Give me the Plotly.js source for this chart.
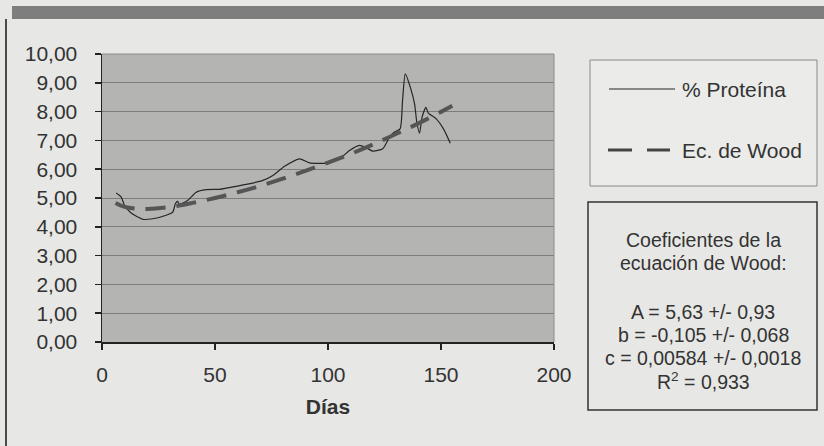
<!DOCTYPE html>
<html>
<head>
<meta charset="utf-8">
<script src="https://cdn.plot.ly/plotly-3.0.1.min.js"></script>
<style>
  html, body { margin: 0; padding: 0; background: #e7e7e5; }
  #chart { width: 824px; height: 446px; }
</style>
</head>
<body>
<div id="chart"></div>
<script>
// ---- Data ----
const proteinDays = [6.3, 8.5, 10.0, 12.9, 18.1, 22.5, 28.4, 31.3, 32.5, 33.5, 34.3, 38.0, 41.7, 46.1, 52.0, 55.0, 63.8, 71.2, 75.6, 80.8, 87.4, 91.8, 99.2, 105.1, 109.5, 113.9, 116.9, 119.8, 124.2, 127.2, 129.4, 131.9, 133.0, 134.2, 136.6, 138.3, 139.3, 140.5, 141.6, 143.3, 144.4, 147.9, 151.1, 154.1];
const proteinValues = [5.17, 5.03, 4.74, 4.48, 4.26, 4.28, 4.40, 4.51, 4.81, 4.88, 4.78, 4.92, 5.20, 5.29, 5.30, 5.34, 5.47, 5.61, 5.78, 6.10, 6.36, 6.22, 6.21, 6.36, 6.65, 6.83, 6.75, 6.63, 6.71, 7.11, 7.29, 7.40, 8.40, 9.31, 8.80, 8.27, 7.63, 7.25, 7.80, 8.15, 7.95, 7.75, 7.40, 6.90];

const woodDays = [6, 10, 15, 20, 30, 40, 50, 60, 70, 80, 90, 100, 110, 120, 130, 140, 150, 155];
const woodValues = [4.83, 4.69, 4.63, 4.62, 4.69, 4.83, 5.00, 5.20, 5.42, 5.67, 5.94, 6.23, 6.53, 6.86, 7.22, 7.59, 7.99, 8.20];

const yTicks = [0, 1, 2, 3, 4, 5, 6, 7, 8, 9, 10];
const xTicks = [0, 50, 100, 150, 200];

const legendNames = ['% Proteína', 'Ec. de Wood'];
const coefLines = ['Coeficientes de la', 'ecuación de Wood:', 'A = 5,63 +/- 0,93', 'b = -0,105 +/- 0,068', 'c = 0,00584 +/- 0,0018', 'R<sup>2</sup> = 0,933'];

// ---- Layout helpers (pixel -> paper) ----
const W = 824, H = 446;
const M = { l: 102, r: 270, t: 54, b: 104 };
const PW = W - M.l - M.r, PH = H - M.t - M.b;
const px = p => (p - M.l) / PW;
const py = p => (H - M.b - p) / PH;

const FONT = 'Liberation Sans, Arial, sans-serif';
const TXT = '#333333';

const traces = [
  {
    x: proteinDays, y: proteinValues, type: 'scatter', mode: 'lines',
    name: legendNames[0], line: { color: '#262626', width: 1.2, shape: 'spline', smoothing: 0.6 },
    hoverinfo: 'x+y'
  },
  {
    x: woodDays, y: woodValues, type: 'scatter', mode: 'lines',
    name: legendNames[1], line: { color: '#555555', width: 4, dash: '20px,11px', shape: 'spline' },
    hoverinfo: 'x+y'
  }
];

const shapes = [
  // top dark band
  { type: 'rect', xref: 'paper', yref: 'paper', x0: px(12), x1: px(824), y0: py(6), y1: py(19), fillcolor: '#7e7e7e', line: { width: 0 }, layer: 'above' },
  // left frame line
  { type: 'line', xref: 'paper', yref: 'paper', x0: px(6), x1: px(6), y0: py(19), y1: py(446), line: { color: '#4a4a4a', width: 2 } },
  // plot border top and right
  { type: 'line', xref: 'paper', yref: 'paper', x0: 0, x1: 1, y0: 1, y1: 1, line: { color: '#8c8c8c', width: 1 } },
  { type: 'line', xref: 'paper', yref: 'paper', x0: 1, x1: 1, y0: 0, y1: 1, line: { color: '#8c8c8c', width: 1 } },
  // legend box
  { type: 'rect', xref: 'paper', yref: 'paper', x0: px(590), x1: px(817), y0: py(186), y1: py(60), fillcolor: '#ebebe9', line: { color: '#8a8a8a', width: 1 }, layer: 'below' },
  // legend samples
  { type: 'line', xref: 'paper', yref: 'paper', x0: px(609), x1: px(675), y0: py(89), y1: py(89), line: { color: '#262626', width: 1.2 } },
  { type: 'line', xref: 'paper', yref: 'paper', x0: px(608), x1: px(632), y0: py(150), y1: py(150), line: { color: '#444444', width: 3 } },
  { type: 'line', xref: 'paper', yref: 'paper', x0: px(647), x1: px(670), y0: py(150), y1: py(150), line: { color: '#444444', width: 3 } },
  // coefficients box
  { type: 'rect', xref: 'paper', yref: 'paper', x0: px(588), x1: px(817), y0: py(410), y1: py(202), fillcolor: 'rgba(0,0,0,0)', line: { color: '#333333', width: 1.5 } }
];

const coefY = [240, 263, 312, 335, 358, 381];
const annotations = [
  { xref: 'paper', yref: 'paper', x: px(680), y: py(89), xanchor: 'left', yanchor: 'middle', text: legendNames[0], showarrow: false, font: { family: FONT, size: 21, color: TXT } },
  { xref: 'paper', yref: 'paper', x: px(680), y: py(150), xanchor: 'left', yanchor: 'middle', text: legendNames[1], showarrow: false, font: { family: FONT, size: 21, color: TXT } }
];
coefLines.forEach((t, i) => {
  annotations.push({ xref: 'paper', yref: 'paper', x: px(703), y: py(coefY[i]), xanchor: 'center', yanchor: 'middle', text: t, showarrow: false, font: { family: FONT, size: 19.5, color: TXT } });
});

const layout = {
  width: W, height: H,
  margin: M,
  paper_bgcolor: '#e7e7e5',
  plot_bgcolor: '#b4b4b2',
  separators: ',.',
  showlegend: false,
  font: { family: FONT, size: 21, color: TXT },
  xaxis: {
    range: [0, 200], tickvals: xTicks, ticktext: xTicks.map(String),
    showgrid: false, zeroline: false,
    showline: true, linecolor: '#222', linewidth: 1.5,
    ticks: 'outside', ticklen: 6, tickcolor: '#222', tickwidth: 1.5,
    ticklabelstandoff: 7,
    tickfont: { family: FONT, size: 21, color: TXT },
    title: { text: '<b>Días</b>', font: { family: FONT, size: 21, color: TXT }, standoff: 14 },
    automargin: false
  },
  yaxis: {
    range: [0, 10], tickvals: yTicks, tickformat: '.2f',
    showgrid: true, gridcolor: '#7c7c7c', gridwidth: 1, zeroline: false,
    showline: true, linecolor: '#222', linewidth: 1.5,
    ticks: 'outside', ticklen: 6, tickcolor: '#222', tickwidth: 1.5,
    ticklabelstandoff: 13,
    tickfont: { family: FONT, size: 21, color: TXT },
    automargin: false
  },
  shapes: shapes,
  annotations: annotations
};

Plotly.newPlot('chart', traces, layout, { displayModeBar: false, staticPlot: true });
</script>
</body>
</html>
